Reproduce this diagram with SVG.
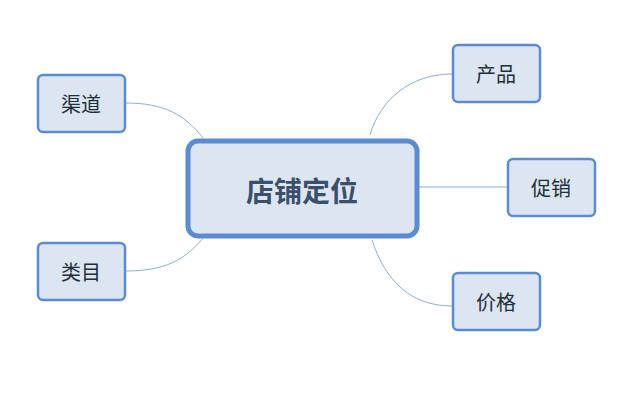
<svg xmlns="http://www.w3.org/2000/svg" width="643" height="403" viewBox="0 0 643 403">
<style>
.n rect{fill:#dce6f2;stroke:#5b8bd0;stroke-width:2.5}
.n text{font-family:"Noto Sans CJK SC",sans-serif;font-size:20px;fill:#1f2d3d;text-anchor:middle;dominant-baseline:central}
#c text{font-size:28px;font-weight:bold;fill:#3a4f6b}
.e path{fill:none;stroke:#8eaed6;stroke-width:1}
</style>
<rect width="643" height="403" fill="#fff"/>
<g class="e">
<path d="M125,103 C165,103 185,115 203,138"/>
<path d="M125,271 C165,271 185,260 203,238"/>
<path d="M452,74 C410,74 380,100 370,135"/>
<path d="M418,187 L507,187"/>
<path d="M452,306 C410,306 385,280 372,240"/>
</g>
<g id="c" class="n"><rect x="188" y="141" width="229" height="95" rx="10" style="stroke-width:5"/><text x="302" y="190">店铺定位</text></g>
<g id="n1" class="n"><rect x="38" y="75" width="87" height="57" rx="5"/><text x="81" y="103">渠道</text></g>
<g id="n2" class="n"><rect x="38" y="243" width="87" height="57" rx="5"/><text x="81" y="271">类目</text></g>
<g id="n3" class="n"><rect x="453" y="45" width="87" height="57" rx="5"/><text x="496" y="73">产品</text></g>
<g id="n4" class="n"><rect x="508" y="159" width="87" height="57" rx="5"/><text x="551" y="187">促销</text></g>
<g id="n5" class="n"><rect x="453" y="273" width="87" height="57" rx="5"/><text x="496" y="301">价格</text></g>
</svg>
